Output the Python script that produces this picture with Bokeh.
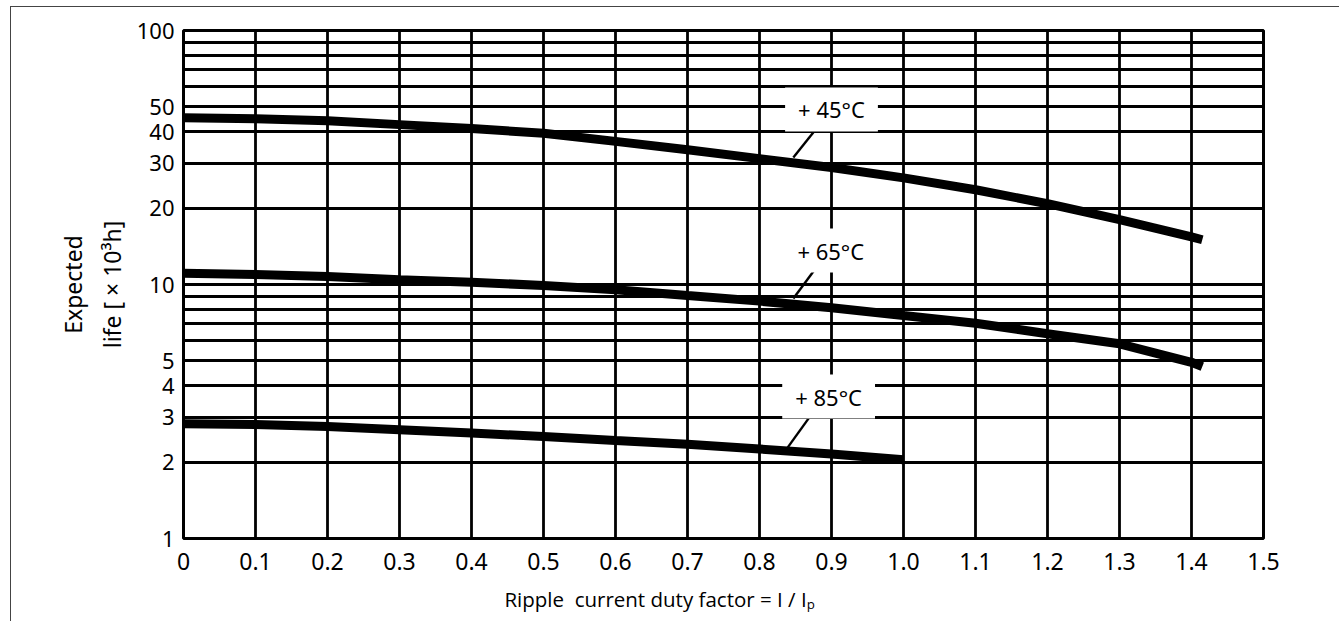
import math
from bokeh.plotting import figure
from bokeh.models import Range1d, FixedTicker, Label
from bokeh.embed import file_html
from bokeh.resources import INLINE

# ---- data ----
duty = [0.0, 0.1, 0.2, 0.3, 0.4, 0.5, 0.6, 0.7, 0.8, 0.9, 1.0, 1.1, 1.2, 1.3, 1.4, 1.415]
life_45 = [45.3, 44.9, 44.1, 42.6, 41.1, 39.4, 36.6, 33.9, 31.3, 28.9, 26.3, 23.6, 20.8, 18.0, 15.4, 15.0]
life_65 = [11.08, 10.95, 10.75, 10.43, 10.21, 9.91, 9.53, 9.05, 8.6, 8.1, 7.55, 7.04, 6.40, 5.84, 4.94, 4.75]
duty_85 = [0.0, 0.1, 0.2, 0.3, 0.4, 0.5, 0.6, 0.7, 0.8, 0.9, 1.0]
life_85 = [2.83, 2.81, 2.76, 2.68, 2.60, 2.52, 2.43, 2.35, 2.25, 2.15, 2.04]

curve_names = ["+ 45°C", "+ 65°C", "+ 85°C"]
label_x = [0.9, 0.899, 0.896]
label_y = [48.9, 13.6, 3.62]
leader_x0 = [0.878, 0.881, 0.875]
leader_y0 = [40.8, 11.88, 3.16]
leader_x1 = [0.847, 0.847, 0.839]
leader_y1 = [31.6, 8.81, 2.28]

x_ticks = [0.0, 0.1, 0.2, 0.3, 0.4, 0.5, 0.6, 0.7, 0.8, 0.9, 1.0, 1.1, 1.2, 1.3, 1.4, 1.5]
x_tick_labels = ["0", "0.1", "0.2", "0.3", "0.4", "0.5", "0.6", "0.7", "0.8", "0.9",
                 "1.0", "1.1", "1.2", "1.3", "1.4", "1.5"]
y_ticks = [1, 2, 3, 4, 5, 10, 20, 30, 40, 50, 100]
y_grid = [2, 3, 4, 5, 6, 7, 8, 9, 10, 20, 30, 40, 50, 60, 70, 80, 90]

NB = "\u00a0"
x_title = "Ripple" + NB + " current duty factor = I / Iₚ" + NB * 24
y_title = "Expected\nlife [ × 10³h]"

FONT = "Noto Sans"

p = figure(width=1329, height=615, y_axis_type="log",
           x_range=Range1d(0, 1.5), y_range=Range1d(1, 100),
           output_backend="svg", toolbar_location=None,
           min_border_left=172, min_border_right=77,
           min_border_top=23, min_border_bottom=84)
p.margin = (6, 0, 0, 10)
p.styles = {"border-left": "1.5px solid #444444", "border-top": "1.5px solid #444444"}
p.background_fill_color = "white"
p.border_fill_color = "white"
p.outline_line_color = "black"
p.outline_line_width = 3

# grid
p.xgrid.ticker = FixedTicker(ticks=x_ticks)
p.ygrid.ticker = FixedTicker(ticks=y_grid)
for g in (p.xgrid, p.ygrid):
    g.grid_line_color = "black"
    g.grid_line_width = 2.8
    g.grid_line_alpha = 1.0

# axes
xa = p.xaxis[0]
xa.ticker = FixedTicker(ticks=x_ticks)
xa.major_label_overrides = {t: s for t, s in zip(x_ticks, x_tick_labels)}
ya = p.yaxis[0]
ya.ticker = FixedTicker(ticks=y_ticks)
ya.major_label_overrides = {t: str(t) for t in y_ticks}
for ax in (xa, ya):
    ax.axis_line_color = None
    ax.major_tick_out = 0
    ax.major_tick_in = 0
    ax.minor_tick_out = 0
    ax.minor_tick_in = 0
    ax.major_label_text_font = FONT
    ax.major_label_text_color = "black"
    ax.axis_label_text_font_style = "normal"
    ax.axis_label_text_color = "black"
xa.major_label_text_font_size = "23px"
ya.major_label_text_font_size = "22px"
xa.major_label_standoff = 14
ya.major_label_standoff = 9
xa.axis_label = x_title
xa.axis_label_text_font = "Open Sans"
xa.axis_label_text_font_size = "20.5px"
xa.axis_label_standoff = 12
ya.axis_label = y_title
ya.axis_label_text_font = FONT
ya.axis_label_text_font_size = "23px"
ya.axis_label_standoff = 6

# curves
p.line(duty, life_45, line_width=9, line_color="black")
p.line(duty, life_65, line_width=9, line_color="black")
p.line(duty_85, life_85, line_width=9, line_color="black")

# leader lines
p.segment(leader_x0, leader_y0, leader_x1, leader_y1, line_width=2.4, line_color="black")

# curve labels with white boxes
for name, lx, ly in zip(curve_names, label_x, label_y):
    p.add_layout(Label(x=lx, y=ly, text=name, text_align="center", text_baseline="middle",
                       text_font=FONT, text_font_size="22px", text_color="black",
                       background_fill_color="white",
                       padding=dict(top=7, right=13, bottom=7, left=13)))

open("out.html", "w").write(file_html(p, INLINE))
